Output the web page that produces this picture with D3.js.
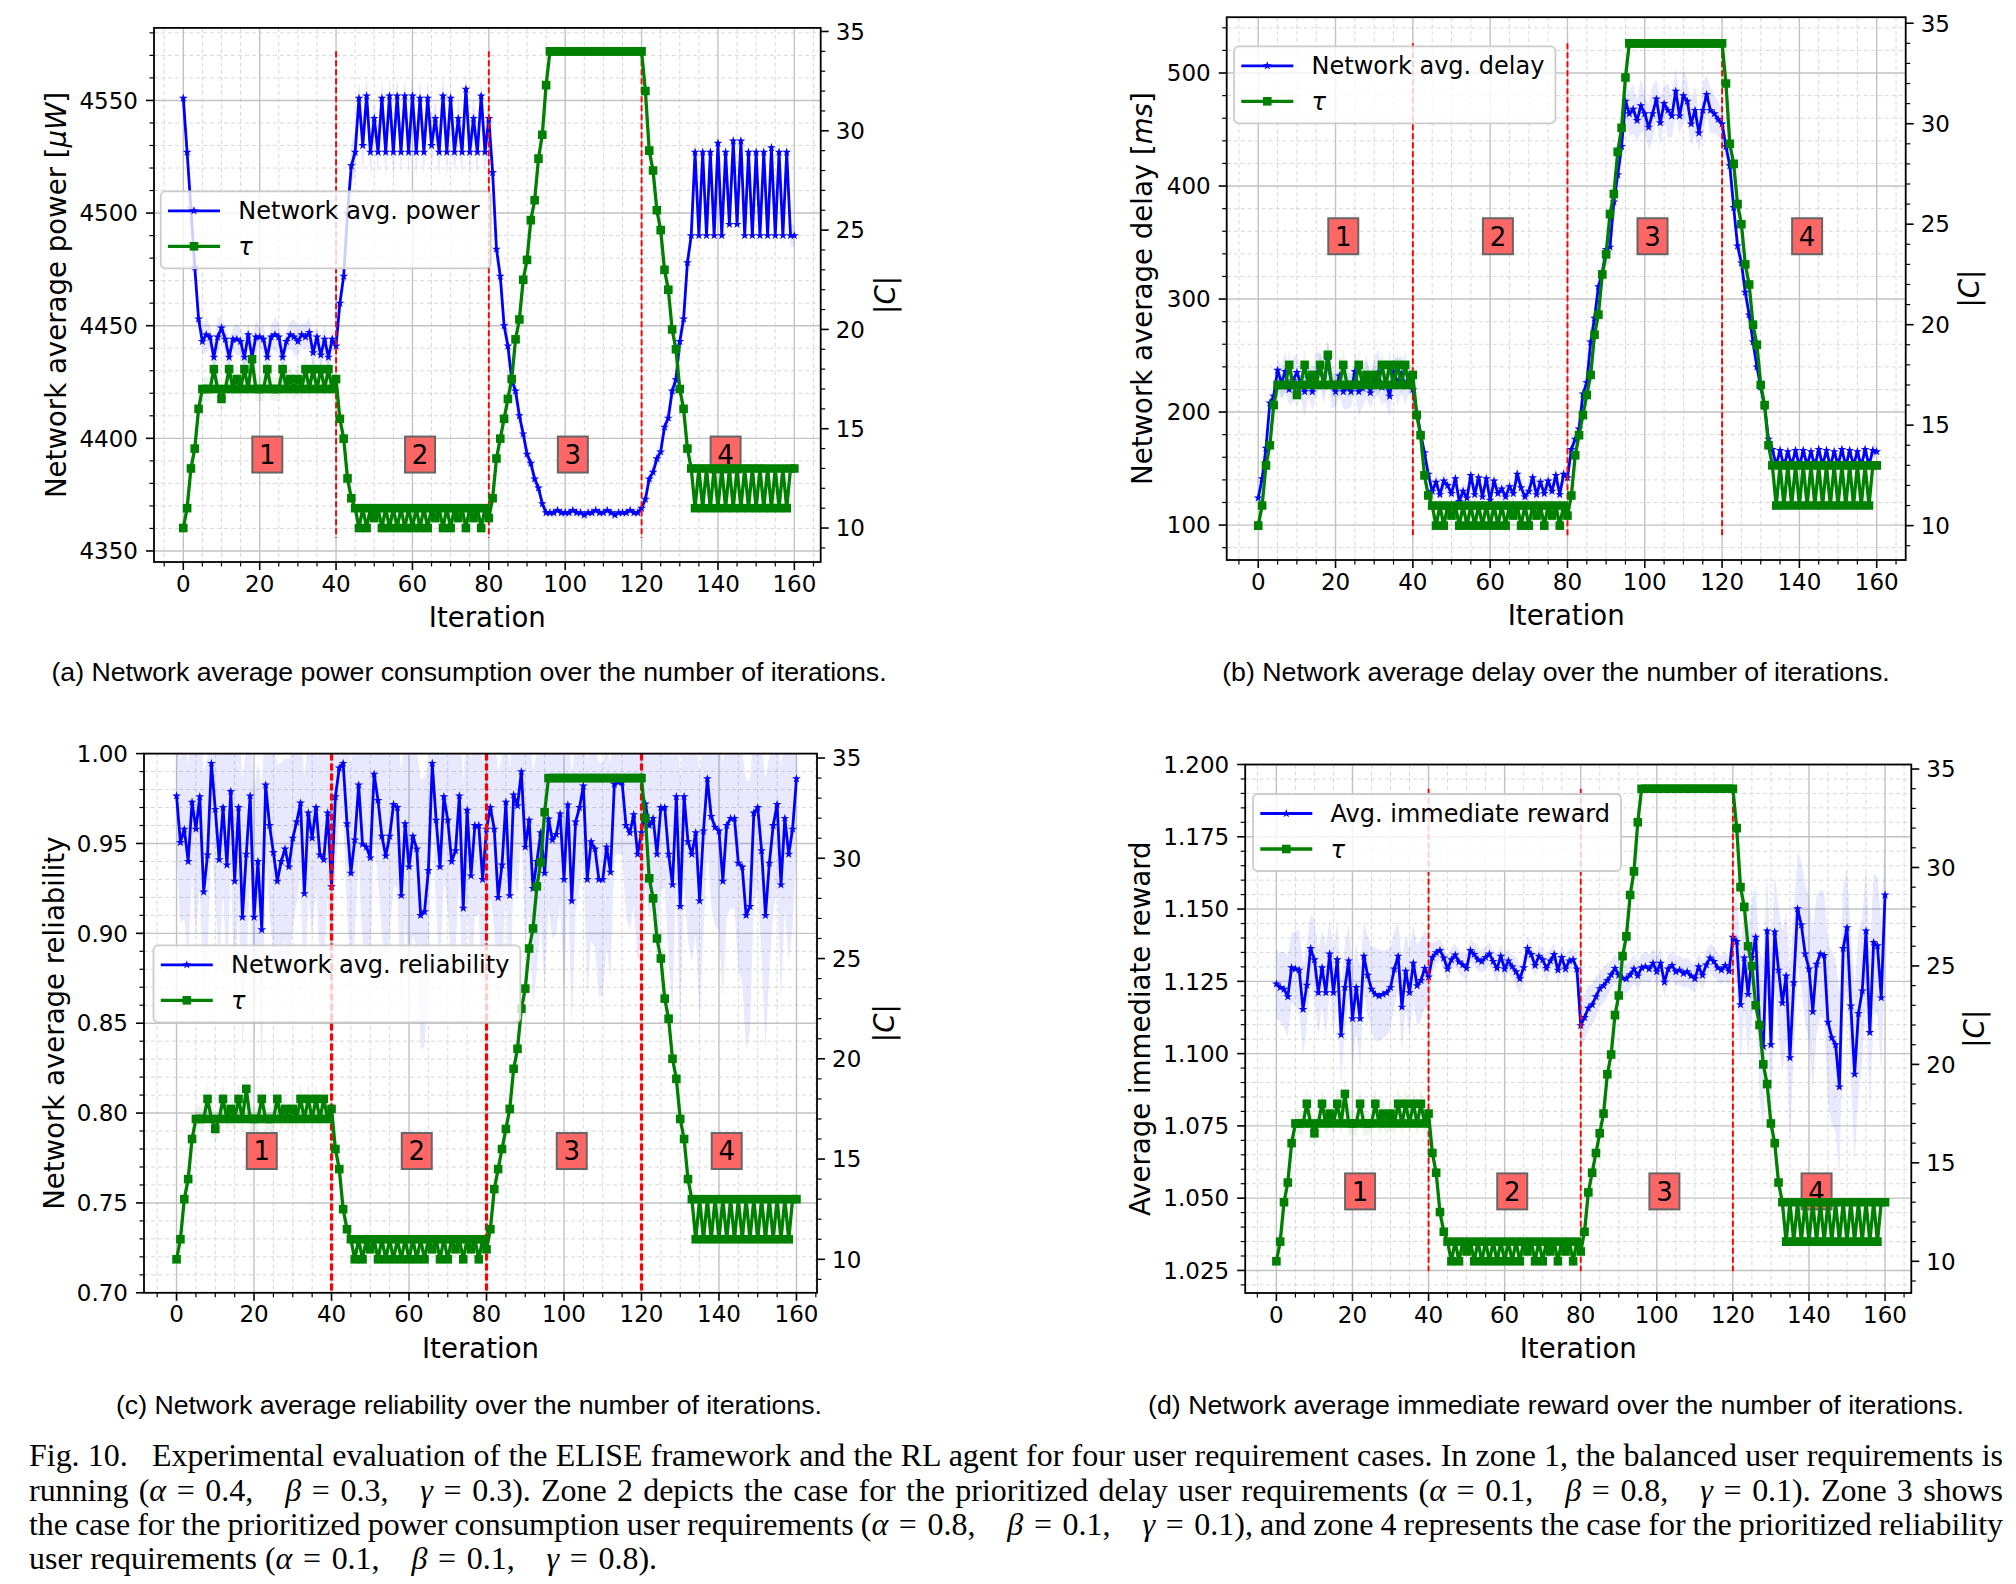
<!DOCTYPE html>
<html><head><meta charset="utf-8">
<script src="https://cdn.jsdelivr.net/npm/d3@7/dist/d3.min.js"></script>
<style>html,body{margin:0;padding:0;background:#fff;} svg{display:block;}</style>
</head><body>
<svg id="fig" width="2016" height="1584" xmlns="http://www.w3.org/2000/svg"></svg>
<script>
// ---------------- DATA ----------------
const iterations = d3.range(0, 161);
const xTicks = [0, 20, 40, 60, 80, 100, 120, 140, 160];
const tauTicks = [10, 15, 20, 25, 30, 35];
const powerTicks = [4350, 4400, 4450, 4500, 4550];
const delayTicks = [100, 200, 300, 400, 500];
const relTicks = [0.70, 0.75, 0.80, 0.85, 0.90, 0.95, 1.00];
const rewardTicks = [1.025, 1.050, 1.075, 1.100, 1.125, 1.150, 1.175, 1.200];
const zoneBounds = [40, 80, 120];
const zoneLabels = ["1", "2", "3", "4"];
const zoneLabelX = [22, 62, 102, 142];

const tau = [
10,11,13,14,16,17,17,17,18,17,
16.5,17,18,17,17.5,17,18,17,18.5,17,
17,17,18,17,17,17,18,17,17.5,17,
17.5,17,18,17,18,17,18,17,18,17,
17.5,15.5,14.5,12.5,11.5,11,10,11,10,11,
10.5,11,10,11,10,11,10,11,10,11,
10,11,10,11,10,11,10.5,11,10,11,
10,11,10.5,11,10,11,10.5,11,10,11,
10.5,11.5,13.5,14.5,15.5,16.5,17.5,19.5,20.5,22.5,
23.5,25.5,26.5,28.6,29.8,32.3,34,34,34,34,
34,34,34,34,34,34,34,34,34,34,
34,34,34,34,34,34,34,34,34,34,
34,32,29,28,26,25,23,22,20,19,
17,16,14,13,11,13,11,13,11,13,
11,13,11,13,11,13,11,13,11,13,
11,13,11,13,11,13,11,13,11,13,
13];
const tauStd = [
.2,.3,.4,.4,.5,.6,.6,.6,.8,.6,
.7,.6,.8,.6,.7,.6,.8,.6,.9,.6,
.6,.6,.8,.6,.6,.6,.8,.6,.7,.6,
.7,.6,.8,.6,.8,.6,.8,.6,.8,.6,
.6,.4,.4,.4,.3,.3,.3,.4,.3,.4,
.4,.3,.4,.3,.4,.3,.4,.3,.4,.3,
.4,.3,.4,.3,.4,.3,.4,.3,.4,.3,
.4,.3,.4,.3,.4,.3,.4,.3,.4,.3,
.3,.3,.3,.3,.3,.3,.3,.3,.3,.3,
.3,.3,.3,.3,.3,.2,.1,.1,.1,.1,
.1,.1,.1,.1,.1,.1,.1,.1,.1,.1,
.1,.1,.1,.1,.1,.1,.1,.1,.1,.1,
.1,.2,.3,.3,.3,.3,.3,.3,.3,.3,
.3,.3,.3,.3,.2,.2,.2,.2,.2,.2,
.2,.2,.2,.2,.2,.2,.2,.2,.2,.2,
.2,.2,.2,.2,.2,.2,.2,.2,.2,.2,
.2];

const power = [
4551,4527,4502,4476,4453,4443,4446,4445,4436,4445,
4449,4444,4436,4444,4444,4443,4436,4446,4436,4445,
4445,4444,4436,4445,4446,4445,4436,4443,4446,4445,
4443,4446,4445,4447,4438,4445,4437,4444,4436,4444,
4441,4460,4472,4500,4521,4527,4551,4530,4552,4527,
4542,4527,4551,4527,4552,4527,4552,4527,4552,4527,
4552,4527,4551,4527,4551,4530,4542,4527,4552,4527,
4551,4527,4542,4527,4555,4527,4542,4527,4552,4527,
4542,4518,4484,4472,4450,4441,4426,4421,4410,4402,
4393,4389,4382,4378,4371,4367,4367,4367,4368,4367,
4367,4367,4368,4367,4367,4366,4367,4367,4368,4367,
4367,4368,4367,4366,4367,4367,4367,4368,4367,4367,
4369,4373,4382,4385,4391,4394,4405,4409,4421,4426,
4443,4453,4478,4490,4527,4490,4527,4490,4527,4490,
4531,4490,4527,4495,4532,4495,4532,4490,4527,4490,
4527,4490,4527,4490,4529,4490,4527,4490,4527,4490,
4490];
const powerStd = [
2,3,3,3,4,6,8,5,7,9,
4,6,8,5,7,6,9,5,7,8,
4,6,7,5,8,6,7,5,6,8,
7,5,6,7,8,5,6,7,6,5,
4,5,6,8,9,10,8,12,9,11,
8,10,9,12,8,11,9,10,8,11,
9,12,8,10,9,11,8,12,9,13,
8,10,9,11,8,10,9,11,8,10,
9,6,6,6,5,5,5,5,5,4,
4,4,3,3,3,2,2,2,2,2,
2,2,2,2,2,2,2,2,2,2,
2,2,2,2,2,2,2,2,2,2,
2,3,3,4,4,4,4,5,5,5,
5,5,5,5,6,5,6,5,6,8,
5,7,5,6,5,6,5,6,5,6,
5,6,5,5,5,5,5,5,5,5,
5];

const delay = [
124,141,168,208,214,237,226,236,220,228,
235,225,218,230,218,234,238,225,246,224,
218,232,218,222,218,236,218,221,232,217,
230,235,222,226,214,236,226,234,224,232,
220,200,181,164,145,130,138,127,139,135,
128,141,121,130,124,144,127,142,125,141,
122,139,128,132,125,134,128,145,133,125,
130,142,127,138,128,139,130,144,127,145,
142,167,176,185,216,226,262,283,311,323,
344,346,386,410,435,475,464,468,458,471,
464,452,464,477,456,473,467,462,484,462,
480,475,455,467,447,467,481,467,464,459,
455,435,418,381,347,332,306,286,262,240,
222,205,176,167,153,166,152,165,153,166,
152,166,153,165,152,167,153,166,152,165,
153,167,152,166,153,165,152,167,153,166,
165];
const delayStd = [
4,5,6,7,8,12,15,18,14,20,
16,13,22,15,17,20,14,19,16,21,
13,18,15,20,14,17,22,16,19,14,
18,20,15,17,19,14,21,16,18,15,
12,8,8,8,7,7,9,8,10,7,
9,8,10,7,9,8,11,7,9,8,
10,7,9,8,10,7,9,8,10,7,
9,8,10,7,9,8,10,7,9,8,
8,8,9,10,10,11,12,12,13,13,
14,14,15,15,16,18,20,22,18,24,
16,20,25,18,22,16,24,19,21,17,
23,18,20,22,16,24,18,20,17,15,
14,12,12,11,11,10,10,9,9,8,
8,8,7,7,6,6,6,6,6,6,
6,6,6,6,6,6,6,6,6,6,
6,6,6,6,6,6,6,6,6,6,
6];

const reliability = [
.9765,.9506,.958,.940,.973,.958,.976,.923,.9436,.9946,
.969,.941,.970,.938,.979,.929,.970,.909,.944,.9765,
.909,.940,.902,.9825,.960,.945,.929,.940,.947,.937,
.953,.962,.9725,.922,.967,.953,.970,.9436,.941,.967,
.926,.976,.992,.9946,.961,.9335,.952,.9825,.9496,.948,
.942,.9886,.974,.954,.943,.954,.9717,.970,.921,.961,
.937,.954,.947,.910,.912,.935,.9946,.963,.937,.976,
.963,.940,.946,.9765,.914,.9685,.932,.960,.960,.930,
.958,.970,.958,.920,.938,.973,.921,.977,.971,.990,
.948,.963,.925,.940,.956,.9335,.9637,.952,.955,.9665,
.930,.9715,.918,.962,.970,.982,.930,.951,.947,.930,
.930,.948,.934,.983,.984,.984,.960,.956,.966,.944,
.956,.972,.960,.964,.944,.970,.970,.944,.927,.976,
.915,.976,.951,.944,.956,.918,.957,.986,.965,.959,
.957,.929,.960,.964,.964,.939,.937,.910,.915,.967,
.970,.946,.910,.939,.960,.9717,.927,.964,.944,.958,
.986];
const reliabilityStd = [
.035,.045,.05,.055,.04,.06,.05,.065,.055,.04,
.05,.06,.045,.065,.04,.07,.05,.075,.06,.045,
.07,.055,.08,.04,.05,.06,.065,.055,.05,.06,
.05,.045,.04,.065,.045,.055,.045,.06,.06,.045,
.065,.04,.03,.03,.05,.06,.055,.04,.055,.055,
.06,.035,.045,.055,.06,.055,.045,.045,.07,.05,
.06,.055,.055,.075,.075,.06,.03,.05,.06,.045,
.05,.06,.055,.045,.07,.05,.065,.05,.05,.065,
.055,.05,.055,.07,.06,.045,.07,.045,.05,.035,
.055,.05,.065,.06,.05,.065,.05,.055,.055,.05,
.065,.045,.07,.05,.045,.04,.065,.055,.055,.065,
.065,.055,.06,.04,.04,.04,.05,.055,.05,.06,
.055,.045,.05,.05,.06,.045,.045,.06,.07,.045,
.07,.045,.055,.06,.055,.07,.055,.04,.05,.055,
.055,.065,.05,.05,.05,.06,.065,.075,.07,.05,
.045,.06,.075,.06,.05,.045,.065,.05,.06,.055,
.04];

const reward = [
1.1241,1.1229,1.1223,1.1197,1.1297,1.1293,1.1289,1.1153,1.1237,1.1364,
1.1325,1.1211,1.1297,1.1211,1.1345,1.1211,1.1325,1.1065,1.1229,1.1321,
1.1121,1.1229,1.1121,1.1337,1.1271,1.1223,1.1205,1.1199,1.1205,1.1211,
1.1229,1.1293,1.1337,1.1161,1.1285,1.1211,1.1313,1.1235,1.1253,1.1295,
1.1265,1.1333,1.1349,1.1357,1.1331,1.1293,1.1325,1.1341,1.1317,1.1307,
1.1295,1.1357,1.1343,1.1325,1.1319,1.1333,1.1345,1.1319,1.1295,1.1337,
1.1293,1.1321,1.1301,1.1283,1.1259,1.1297,1.1364,1.1343,1.1305,1.1337,
1.1325,1.1295,1.1321,1.1343,1.1289,1.1333,1.1293,1.1321,1.1325,1.1293,
1.1097,1.1125,1.1157,1.1169,1.1197,1.1225,1.1235,1.1253,1.1273,1.1295,
1.1271,1.1261,1.1259,1.1273,1.1293,1.1269,1.1297,1.1301,1.1293,1.1313,
1.1283,1.1313,1.1247,1.1293,1.1305,1.1283,1.1289,1.1277,1.1283,1.1269,
1.1259,1.1301,1.1271,1.1307,1.1331,1.1319,1.1297,1.1289,1.1305,1.1285,
1.1403,1.1388,1.1169,1.1331,1.1205,1.1333,1.1403,1.1103,1.1025,1.1424,
1.1031,1.1421,1.1289,1.1175,1.1269,1.0986,1.1245,1.1501,1.1445,1.1345,
1.1293,1.1145,1.1309,1.1345,1.1340,1.1109,1.1055,1.1031,1.0885,1.1364,
1.1436,1.1165,1.0929,1.1139,1.1217,1.1424,1.1073,1.1385,1.1373,1.1193,
1.1549];
const rewardStd = [
.012,.012,.013,.014,.012,.013,.014,.016,.014,.012,
.014,.015,.013,.016,.012,.015,.014,.018,.015,.013,
.017,.015,.018,.012,.014,.015,.016,.016,.015,.015,
.014,.013,.012,.016,.013,.015,.013,.014,.014,.013,
.012,.005,.004,.004,.004,.005,.004,.004,.004,.004,
.005,.004,.004,.004,.004,.004,.004,.004,.005,.004,
.005,.004,.004,.005,.005,.004,.004,.004,.004,.004,
.004,.005,.004,.004,.005,.004,.005,.004,.004,.005,
.008,.008,.008,.007,.007,.006,.006,.006,.005,.005,
.005,.005,.005,.005,.005,.005,.005,.005,.005,.005,
.005,.005,.005,.005,.005,.005,.005,.005,.005,.005,
.005,.005,.005,.005,.005,.005,.005,.005,.005,.005,
.01,.015,.02,.018,.022,.02,.018,.025,.03,.02,
.028,.02,.022,.025,.022,.03,.024,.02,.022,.024,
.025,.028,.024,.022,.022,.028,.03,.03,.032,.022,
.02,.026,.03,.028,.025,.022,.028,.024,.024,.026,
.02];

const subCaptions = [
  "(a) Network average power consumption over the number of iterations.",
  "(b) Network average delay over the number of iterations.",
  "(c) Network average reliability over the number of iterations.",
  "(d) Network average immediate reward over the number of iterations."
];
const A = "\u03b1", B = "\u03b2", G = "\u03b3", EQ = "\u2004=\u2004", CS = ",\u2003";
const captionLines = [
  [["Fig. 10.\u2002 Experimental evaluation of the ELISE framework and the RL agent for four user requirement cases. In zone 1, the balanced user requirements is",0]],
  [["running (",0],[A,1],[EQ+"0.4"+CS,0],[B,1],[EQ+"0.3"+CS,0],[G,1],[EQ+"0.3). Zone 2 depicts the case for the prioritized delay user requirements (",0],[A,1],[EQ+"0.1"+CS,0],[B,1],[EQ+"0.8"+CS,0],[G,1],[EQ+"0.1). Zone 3 shows",0]],
  [["the case for the prioritized power consumption user requirements (",0],[A,1],[EQ+"0.8"+CS,0],[B,1],[EQ+"0.1"+CS,0],[G,1],[EQ+"0.1), and zone 4 represents the case for the prioritized reliability",0]],
  [["user requirements (",0],[A,1],[EQ+"0.1"+CS,0],[B,1],[EQ+"0.1"+CS,0],[G,1],[EQ+"0.8).",0]]
];

// ---------------- DRAWING ----------------
const svg = d3.select('#fig');
svg.append('rect').attr('width', 2016).attr('height', 1584).attr('fill', '#fff');
const SANS = "'DejaVu Sans', sans-serif";
const defs = svg.append('defs');

function rich(sel, segs) {
  segs.forEach(([t, it]) => sel.append('tspan').attr('font-style', it ? 'italic' : 'normal').text(t));
  return sel;
}
function minorVals(dom, step, majors) {
  const out = [];
  const k0 = Math.ceil(dom[0] / step - 1e-9), k1 = Math.floor(dom[1] / step + 1e-9);
  for (let k = k0; k <= k1; k++) {
    const v = +(k * step).toFixed(6);
    if (!majors.some(m => Math.abs(m - v) < step / 100)) out.push(v);
  }
  return out;
}

const panels = [
  {id:'a', L:154, R:820.7, T:27.9, B:562, xdom:[-7.67,166.9], ydom:[4345.1,4582.2], tdom:[8.29,35.18],
   values: power, std: powerStd, yTicks: powerTicks, yMinor: 10, fmt: d3.format('d'),
   ylabel: [["Network average power [",0],["\u03bcW",1],["]",0]], ylabelX: 56, cX: 885,
   legendName: "Network avg. power", lgX: 160.7, lgY: 191.3, boxTau: 13.7, fullV: false},
  {id:'b', L:1226.7, R:1905.7, T:17.2, B:560, xdom:[-8.16,167.5], ydom:[69.1,549.4], tdom:[8.29,35.3],
   values: delay, std: delayStd, yTicks: delayTicks, yMinor: 20, fmt: d3.format('d'),
   ylabel: [["Network average delay [",0],["ms",1],["]",0]], ylabelX: 1142, cX: 1969,
   legendName: "Network avg. delay", lgX: 1234, lgY: 46.3, boxTau: 24.4, fullV: false},
  {id:'c', L:144, R:817, T:753.6, B:1292.8, xdom:[-8.4,165.3], ydom:[0.70,1.00], tdom:[8.33,35.22],
   values: reliability, std: reliabilityStd, yTicks: relTicks, yMinor: 0.01, fmt: d3.format('.2f'),
   ylabel: [["Network average reliability",0]], ylabelX: 54, cX: 884,
   legendName: "Network avg. reliability", lgX: 153.5, lgY: 945.3, boxTau: 15.4, fullV: true},
  {id:'d', L:1245.2, R:1911.3, T:764.5, B:1293, xdom:[-8.2,166.9], ydom:[1.0172,1.2], tdom:[8.39,35.23],
   values: reward, std: rewardStd, yTicks: rewardTicks, yMinor: 0.005, fmt: d3.format('.3f'),
   ylabel: [["Average immediate reward",0]], ylabelX: 1140, cX: 1974,
   legendName: "Avg. immediate reward", lgX: 1253, lgY: 794, boxTau: 13.55, fullV: false}
];

function drawPanel(p) {
  const x = d3.scaleLinear().domain(p.xdom).range([p.L, p.R]);
  const y = d3.scaleLinear().domain(p.ydom).range([p.B, p.T]);
  const yt = d3.scaleLinear().domain(p.tdom).range([p.B, p.T]);
  const g = svg.append('g');
  defs.append('clipPath').attr('id', 'clip' + p.id).append('rect')
    .attr('x', p.L).attr('y', p.T).attr('width', p.R - p.L).attr('height', p.B - p.T);
  const pl = g.append('g').attr('clip-path', `url(#clip${p.id})`);

  const xMin = minorVals(p.xdom, 5, xTicks);
  const yMin = minorVals(p.ydom, p.yMinor, p.yTicks);
  const tMin = minorVals(p.tdom, 1, tauTicks);

  const vline = (sel, vals, col, w, dash) => sel.append('g').selectAll('line').data(vals).enter().append('line')
    .attr('x1', d => x(d)).attr('x2', d => x(d)).attr('y1', p.T).attr('y2', p.B)
    .attr('stroke', col).attr('stroke-width', w).attr('stroke-dasharray', dash);
  const hline = (sel, vals, col, w, dash) => sel.append('g').selectAll('line').data(vals).enter().append('line')
    .attr('y1', d => y(d)).attr('y2', d => y(d)).attr('x1', p.L).attr('x2', p.R)
    .attr('stroke', col).attr('stroke-width', w).attr('stroke-dasharray', dash);
  vline(pl, xMin, '#d8d8d8', 1, '4,3');
  hline(pl, yMin, '#d8d8d8', 1, '4,3');
  vline(pl, xTicks, '#c2c2c2', 1.4, null);
  hline(pl, p.yTicks, '#c2c2c2', 1.4, null);

  const area = d3.area().x((d, i) => x(iterations[i]))
    .y0((d, i) => y(p.values[i] - p.std[i])).y1((d, i) => y(p.values[i] + p.std[i]));
  pl.append('path').datum(p.values).attr('d', area).attr('fill', 'blue').attr('fill-opacity', 0.09);
  const line = d3.line().x((d, i) => x(iterations[i])).y(d => y(d));
  pl.append('path').datum(p.values).attr('d', line).attr('fill', 'none')
    .attr('stroke', 'blue').attr('stroke-width', 2.8).attr('stroke-linejoin', 'round');
  const star = d3.symbol().type(d3.symbolStar).size(24);
  pl.append('g').selectAll('path').data(p.values).enter().append('path').attr('d', star)
    .attr('transform', (d, i) => `translate(${x(iterations[i])},${y(d)})`).attr('fill', 'blue');

  const tArea = d3.area().x((d, i) => x(iterations[i]))
    .y0((d, i) => yt(tau[i] - tauStd[i])).y1((d, i) => yt(tau[i] + tauStd[i]));
  pl.append('path').datum(tau).attr('d', tArea).attr('fill', 'green').attr('fill-opacity', 0.08);

  pl.append('g').selectAll('line').data(zoneBounds).enter().append('line')
    .attr('x1', d => x(d)).attr('x2', d => x(d))
    .attr('y1', p.fullV ? p.T : yt(34)).attr('y2', p.fullV ? p.B : yt(9.5))
    .attr('stroke', 'red').attr('stroke-width', p.fullV ? 3.2 : 1.9)
    .attr('stroke-dasharray', p.fullV ? '7,3' : '6,3');

  const bx = pl.append('g').selectAll('g').data(zoneLabels).enter().append('g')
    .attr('transform', (d, i) => `translate(${x(zoneLabelX[i])},${yt(p.boxTau)})`);
  bx.append('rect').attr('x', -15).attr('y', -18).attr('width', 30).attr('height', 36)
    .attr('fill', '#ff6666').attr('stroke', '#666').attr('stroke-width', 2);
  bx.append('text').text(d => d).attr('text-anchor', 'middle').attr('dy', '0.36em')
    .attr('font-family', SANS).attr('font-size', 26).attr('fill', '#000');

  const tLine = d3.line().x((d, i) => x(iterations[i])).y(d => yt(d));
  pl.append('path').datum(tau).attr('d', tLine).attr('fill', 'none')
    .attr('stroke', 'green').attr('stroke-width', 3.3).attr('stroke-linejoin', 'round');
  const sq = d3.symbol().type(d3.symbolSquare).size(74);
  pl.append('g').selectAll('path').data(tau).enter().append('path').attr('d', sq)
    .attr('transform', (d, i) => `translate(${x(iterations[i])},${yt(d)})`).attr('fill', 'green');

  g.append('rect').attr('x', p.L).attr('y', p.T).attr('width', p.R - p.L).attr('height', p.B - p.T)
    .attr('fill', 'none').attr('stroke', '#000').attr('stroke-width', 1.8);

  const tk = g.append('g').attr('stroke', '#000');
  tk.selectAll('.xM').data(xTicks).enter().append('line').attr('x1', d => x(d)).attr('x2', d => x(d))
    .attr('y1', p.B).attr('y2', p.B + 8).attr('stroke-width', 1.6);
  tk.selectAll('.xm').data(xMin).enter().append('line').attr('x1', d => x(d)).attr('x2', d => x(d))
    .attr('y1', p.B).attr('y2', p.B + 4.5).attr('stroke-width', 1.2);
  tk.selectAll('.yM').data(p.yTicks).enter().append('line').attr('y1', d => y(d)).attr('y2', d => y(d))
    .attr('x1', p.L - 8).attr('x2', p.L).attr('stroke-width', 1.6);
  tk.selectAll('.ym').data(yMin).enter().append('line').attr('y1', d => y(d)).attr('y2', d => y(d))
    .attr('x1', p.L - 4.5).attr('x2', p.L).attr('stroke-width', 1.2);
  tk.selectAll('.tM').data(tauTicks).enter().append('line').attr('y1', d => yt(d)).attr('y2', d => yt(d))
    .attr('x1', p.R).attr('x2', p.R + 8).attr('stroke-width', 1.6);
  tk.selectAll('.tm').data(tMin).enter().append('line').attr('y1', d => yt(d)).attr('y2', d => yt(d))
    .attr('x1', p.R).attr('x2', p.R + 4.5).attr('stroke-width', 1.2);

  const lab = g.append('g').attr('font-family', SANS).attr('fill', '#000');
  lab.selectAll('.xl').data(xTicks).enter().append('text').text(d => d)
    .attr('x', d => x(d)).attr('y', p.B + 29.5).attr('text-anchor', 'middle').attr('font-size', 23);
  lab.selectAll('.yl').data(p.yTicks).enter().append('text').text(d => p.fmt(d))
    .attr('x', p.L - 16).attr('y', d => y(d)).attr('dy', '0.36em').attr('text-anchor', 'end').attr('font-size', 23);
  lab.selectAll('.tl').data(tauTicks).enter().append('text').text(d => d)
    .attr('x', p.R + 15).attr('y', d => yt(d)).attr('dy', '0.36em').attr('text-anchor', 'start').attr('font-size', 23);
  lab.append('text').text('Iteration').attr('x', (p.L + p.R) / 2).attr('y', p.B + 65)
    .attr('text-anchor', 'middle').attr('font-size', 27.6);
  rich(lab.append('text').attr('text-anchor', 'middle').attr('dominant-baseline', 'central').attr('font-size', 27.6)
    .attr('transform', `translate(${p.ylabelX},${(p.T + p.B) / 2}) rotate(-90)`), p.ylabel);
  rich(lab.append('text').attr('text-anchor', 'middle').attr('dominant-baseline', 'central').attr('font-size', 27.6)
    .attr('transform', `translate(${p.cX},${(p.T + p.B) / 2}) rotate(-90)`), [["|",0],["C",1],["|",0]]);

  const lg = g.append('g').attr('transform', `translate(${p.lgX},${p.lgY})`);
  const box = lg.append('rect');
  const e1 = 19.5, e2 = 55;
  lg.append('line').attr('x1', 7.3).attr('x2', 59.3).attr('y1', e1).attr('y2', e1).attr('stroke', 'blue').attr('stroke-width', 2.8);
  lg.append('path').attr('d', star).attr('transform', `translate(33.3,${e1})`).attr('fill', 'blue');
  lg.append('line').attr('x1', 7.3).attr('x2', 59.3).attr('y1', e2).attr('y2', e2).attr('stroke', 'green').attr('stroke-width', 3.3);
  lg.append('path').attr('d', sq).attr('transform', `translate(33.3,${e2})`).attr('fill', 'green');
  const t1 = lg.append('text').text(p.legendName).attr('x', 77.6).attr('y', e1).attr('dy', '0.36em')
    .attr('font-family', SANS).attr('font-size', 24);
  lg.append('text').text('\u03c4').attr('x', 77.6).attr('y', e2).attr('dy', '0.36em')
    .attr('font-family', SANS).attr('font-size', 24).attr('font-style', 'italic');
  const w = 77.6 + t1.node().getComputedTextLength() + 11;
  box.attr('x', 0).attr('y', 0).attr('width', w).attr('height', 77).attr('rx', 5)
    .attr('fill', '#fff').attr('fill-opacity', 0.8).attr('stroke', '#cccccc').attr('stroke-width', 1.8);
}
panels.forEach(drawPanel);

// sub-captions
const SC_FONT = "'Liberation Sans', Arial, sans-serif";
const scPos = [[469, 681], [1556, 681], [469, 1414], [1556, 1414]];
const probe = svg.append('text').attr('font-family', SC_FONT).attr('font-size', 24).text(subCaptions[0]);
const scSize = 24 * 835.7 / probe.node().getComputedTextLength();
probe.remove();
subCaptions.forEach((s, i) => {
  svg.append('text').text(s).attr('x', scPos[i][0]).attr('y', scPos[i][1]).attr('text-anchor', 'middle')
    .attr('font-family', SC_FONT).attr('font-size', scSize).attr('fill', '#000');
});

// figure caption (justified lines 1-3)
const SERIF = "'Liberation Serif', 'Times New Roman', serif";
const capLeft = 29, capRight = 2003, capBase = [1466, 1500.5, 1535, 1569];
const probe2 = rich(svg.append('text').attr('font-family', SERIF).attr('font-size', 28).style('white-space', 'pre'), captionLines[0]);
const capSize = 28 * 1968 / probe2.node().getComputedTextLength();
probe2.remove();
captionLines.forEach((segs, i) => {
  const t = rich(svg.append('text').attr('x', capLeft).attr('y', capBase[i]).attr('font-family', SERIF)
    .attr('font-size', capSize).attr('fill', '#000').style('white-space', 'pre'), segs);
  if (i < 3) {
    const nat = t.node().getComputedTextLength();
    const spaces = segs.map(s => s[0]).join('').split(' ').length - 1;
    t.style('word-spacing', ((capRight - capLeft - nat) / spaces) + 'px');
  }
});
</script>
</body></html>
